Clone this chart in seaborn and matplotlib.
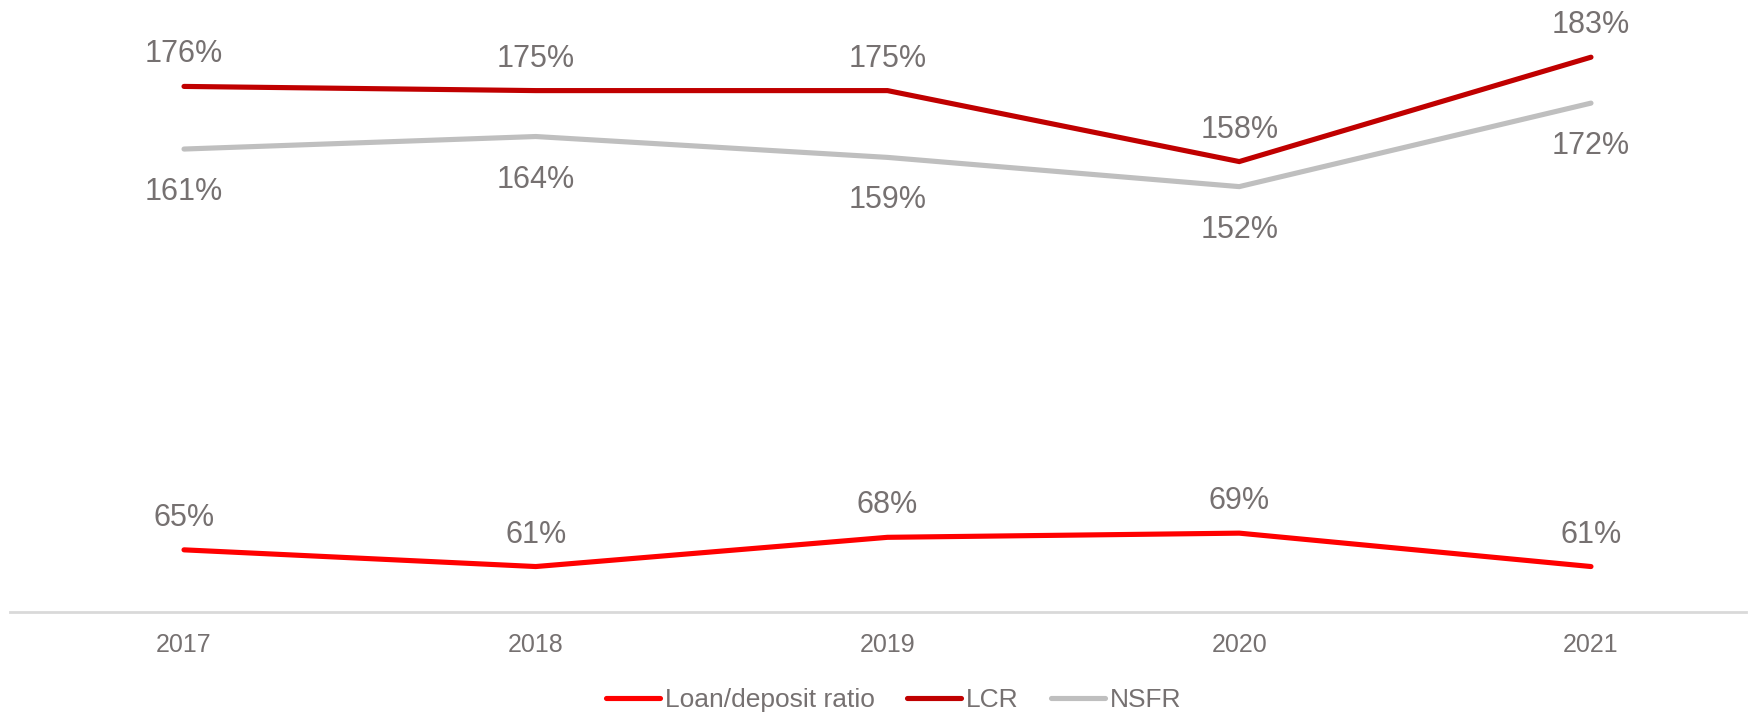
import numpy as np
import pandas as pd
import matplotlib
matplotlib.use("Agg")
import matplotlib.pyplot as plt
import seaborn as sns

years = ["2017", "2018", "2019", "2020", "2021"]
loan_deposit = [65, 61, 68, 69, 61]
lcr = [176, 175, 175, 158, 183]
nsfr = [161, 164, 159, 152, 172]
series_names = ["Loan/deposit ratio", "LCR", "NSFR"]
series_colors = ["#FF0000", "#C00000", "#BFBFBF"]
label_side = [1, 1, -1]  # +1 above the point, -1 below

sns.set_theme(style="white")
plt.rcParams["font.family"] = ["Liberation Sans", "DejaVu Sans"]

text_color = "#767171"

df = pd.DataFrame({
    "year": years * 3,
    "pos": list(range(len(years))) * 3,
    "value": loan_deposit + lcr + nsfr,
    "series": [s for s in series_names for _ in years],
})

fig = plt.figure(figsize=(17.49, 7.14), dpi=100)
ax = fig.add_axes([10 / 1749, 0.1422, 1736 / 1749, 1 - 0.1422])

sns.lineplot(
    data=df, x="pos", y="value", hue="series",
    hue_order=series_names, palette=series_colors,
    linewidth=3.7, ax=ax, legend=False, sort=False,
)
for line in ax.lines:
    line.set_solid_capstyle("round")
    line.set_solid_joinstyle("miter")

# label offsets in points: above / below the point
offsets = {1: 23, -1: 31}
for name, side in zip(series_names, label_side):
    sub = df[df["series"] == name]
    for x, v in zip(sub["pos"], sub["value"]):
        ax.annotate(f"{v}%", (x, v), xytext=(0, offsets[side] * side),
                    textcoords="offset points", ha="center", va="center",
                    fontsize=22, color=text_color)

ax.set_xlim(-0.4947, 4.4407)
ax.set_ylim(50, 196.7)
ax.set_xticks(range(len(years)))
ax.set_xticklabels(years, fontsize=18, color=text_color)
ax.tick_params(axis="x", length=0, pad=15)
ax.set_yticks([])
ax.set_xlabel("")
ax.set_ylabel("")
for side in ["top", "right", "left"]:
    ax.spines[side].set_visible(False)
ax.spines["bottom"].set_color("#D9D9D9")
ax.spines["bottom"].set_linewidth(2)

handles = [plt.Line2D([0], [0], color=c, lw=3.7, solid_capstyle="round")
           for c in series_colors]
leg = fig.legend(handles, series_names, loc="center", bbox_to_anchor=(0.511, 0.0193),
                 ncol=3, frameon=False, fontsize=19, handlelength=2.05,
                 handletextpad=0.2, columnspacing=1.2, borderpad=0)
for t in leg.get_texts():
    t.set_color(text_color)

fig.savefig("out.png", dpi=100)
